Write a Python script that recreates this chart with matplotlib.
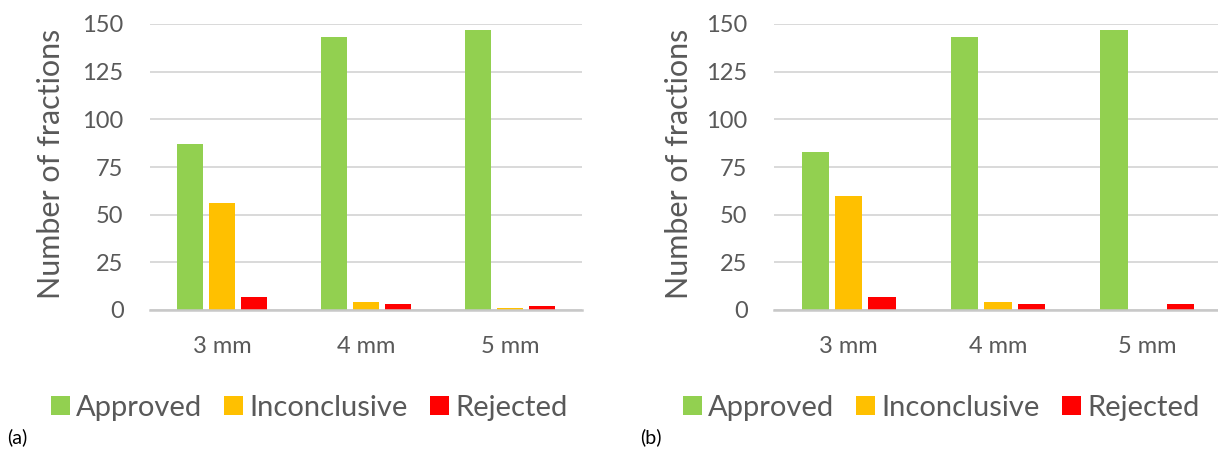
import matplotlib
matplotlib.use("Agg")
import matplotlib.pyplot as plt
import numpy as np
from matplotlib.patches import Patch

categories = ["3 mm", "4 mm", "5 mm"]
series_names = ["Approved", "Inconclusive", "Rejected"]
colors = ["#92D050", "#FFC000", "#FF0000"]

approved_a = [87, 143, 147]
inconclusive_a = [56, 4, 1]
rejected_a = [7, 3, 2]

approved_b = [83, 143, 147]
inconclusive_b = [60, 4, 0]
rejected_b = [7, 3, 3]

yticks = [0, 25, 50, 75, 100, 125, 150]

W, H = 1218, 449
fig = plt.figure(figsize=(W / 100, H / 100), dpi=100)
plt.rcParams['font.family'] = ['Lato', 'DejaVu Sans']

text_col = "#595959"
grid_col = "#D9D9D9"

def px_rect(x0, x1, ytop, ybot):
    return [x0 / W, 1 - ybot / H, (x1 - x0) / W, (ybot - ytop) / H]

def draw(ax, data, ylab_x, legend_cx, panel_label, panel_x):
    x = np.arange(len(categories))
    step = 0.223
    width = 0.182
    for i, (vals, col) in enumerate(zip(data, colors)):
        ax.bar(x + (i - 1) * step, vals, width=width, color=col, zorder=3)
    ax.set_xlim(-0.5, len(categories) - 0.5)
    ax.set_ylim(0, 150)
    ax.set_yticks(yticks)
    ax.set_xticks(x)
    ax.set_xticklabels(categories)
    ax.grid(axis='y', color=grid_col, linewidth=1.4, zorder=0)
    for s in ['top', 'right', 'left']:
        ax.spines[s].set_visible(False)
    ax.spines['bottom'].set_color("#C8C8C8")
    ax.spines['bottom'].set_linewidth(1.8)
    ax.spines['bottom'].set_zorder(4)
    ax.tick_params(axis='both', length=0, labelsize=17, labelcolor=text_col)
    ax.tick_params(axis='y', pad=19)
    ax.tick_params(axis='x', pad=19)
    fig.text(ylab_x / W, 1 - 164 / H, "Number of fractions", rotation=90,
             ha='center', va='center', fontsize=22, color=text_col)
    handles = [Patch(facecolor=c, edgecolor='none') for c in colors]
    fig.legend(handles, series_names, loc='center', bbox_to_anchor=(legend_cx / W, 1 - 408 / H),
               ncol=3, frameon=False, fontsize=21, labelcolor=text_col,
               handlelength=0.65, handleheight=0.65, handletextpad=0.22, columnspacing=0.75,
               borderpad=0, borderaxespad=0)
    fig.text(panel_x / W, 1 - 437 / H, panel_label, ha='left', va='center', fontsize=14, color='black')

ax1 = fig.add_axes(px_rect(150, 582, 24, 310))
draw(ax1, [approved_a, inconclusive_a, rejected_a], 51, 309, "(a)", 7)

ax2 = fig.add_axes(px_rect(774, 1222, 24, 310))
draw(ax2, [approved_b, inconclusive_b, rejected_b], 679, 941, "(b)", 640)

fig.savefig("out.png", dpi=100, facecolor='white')
